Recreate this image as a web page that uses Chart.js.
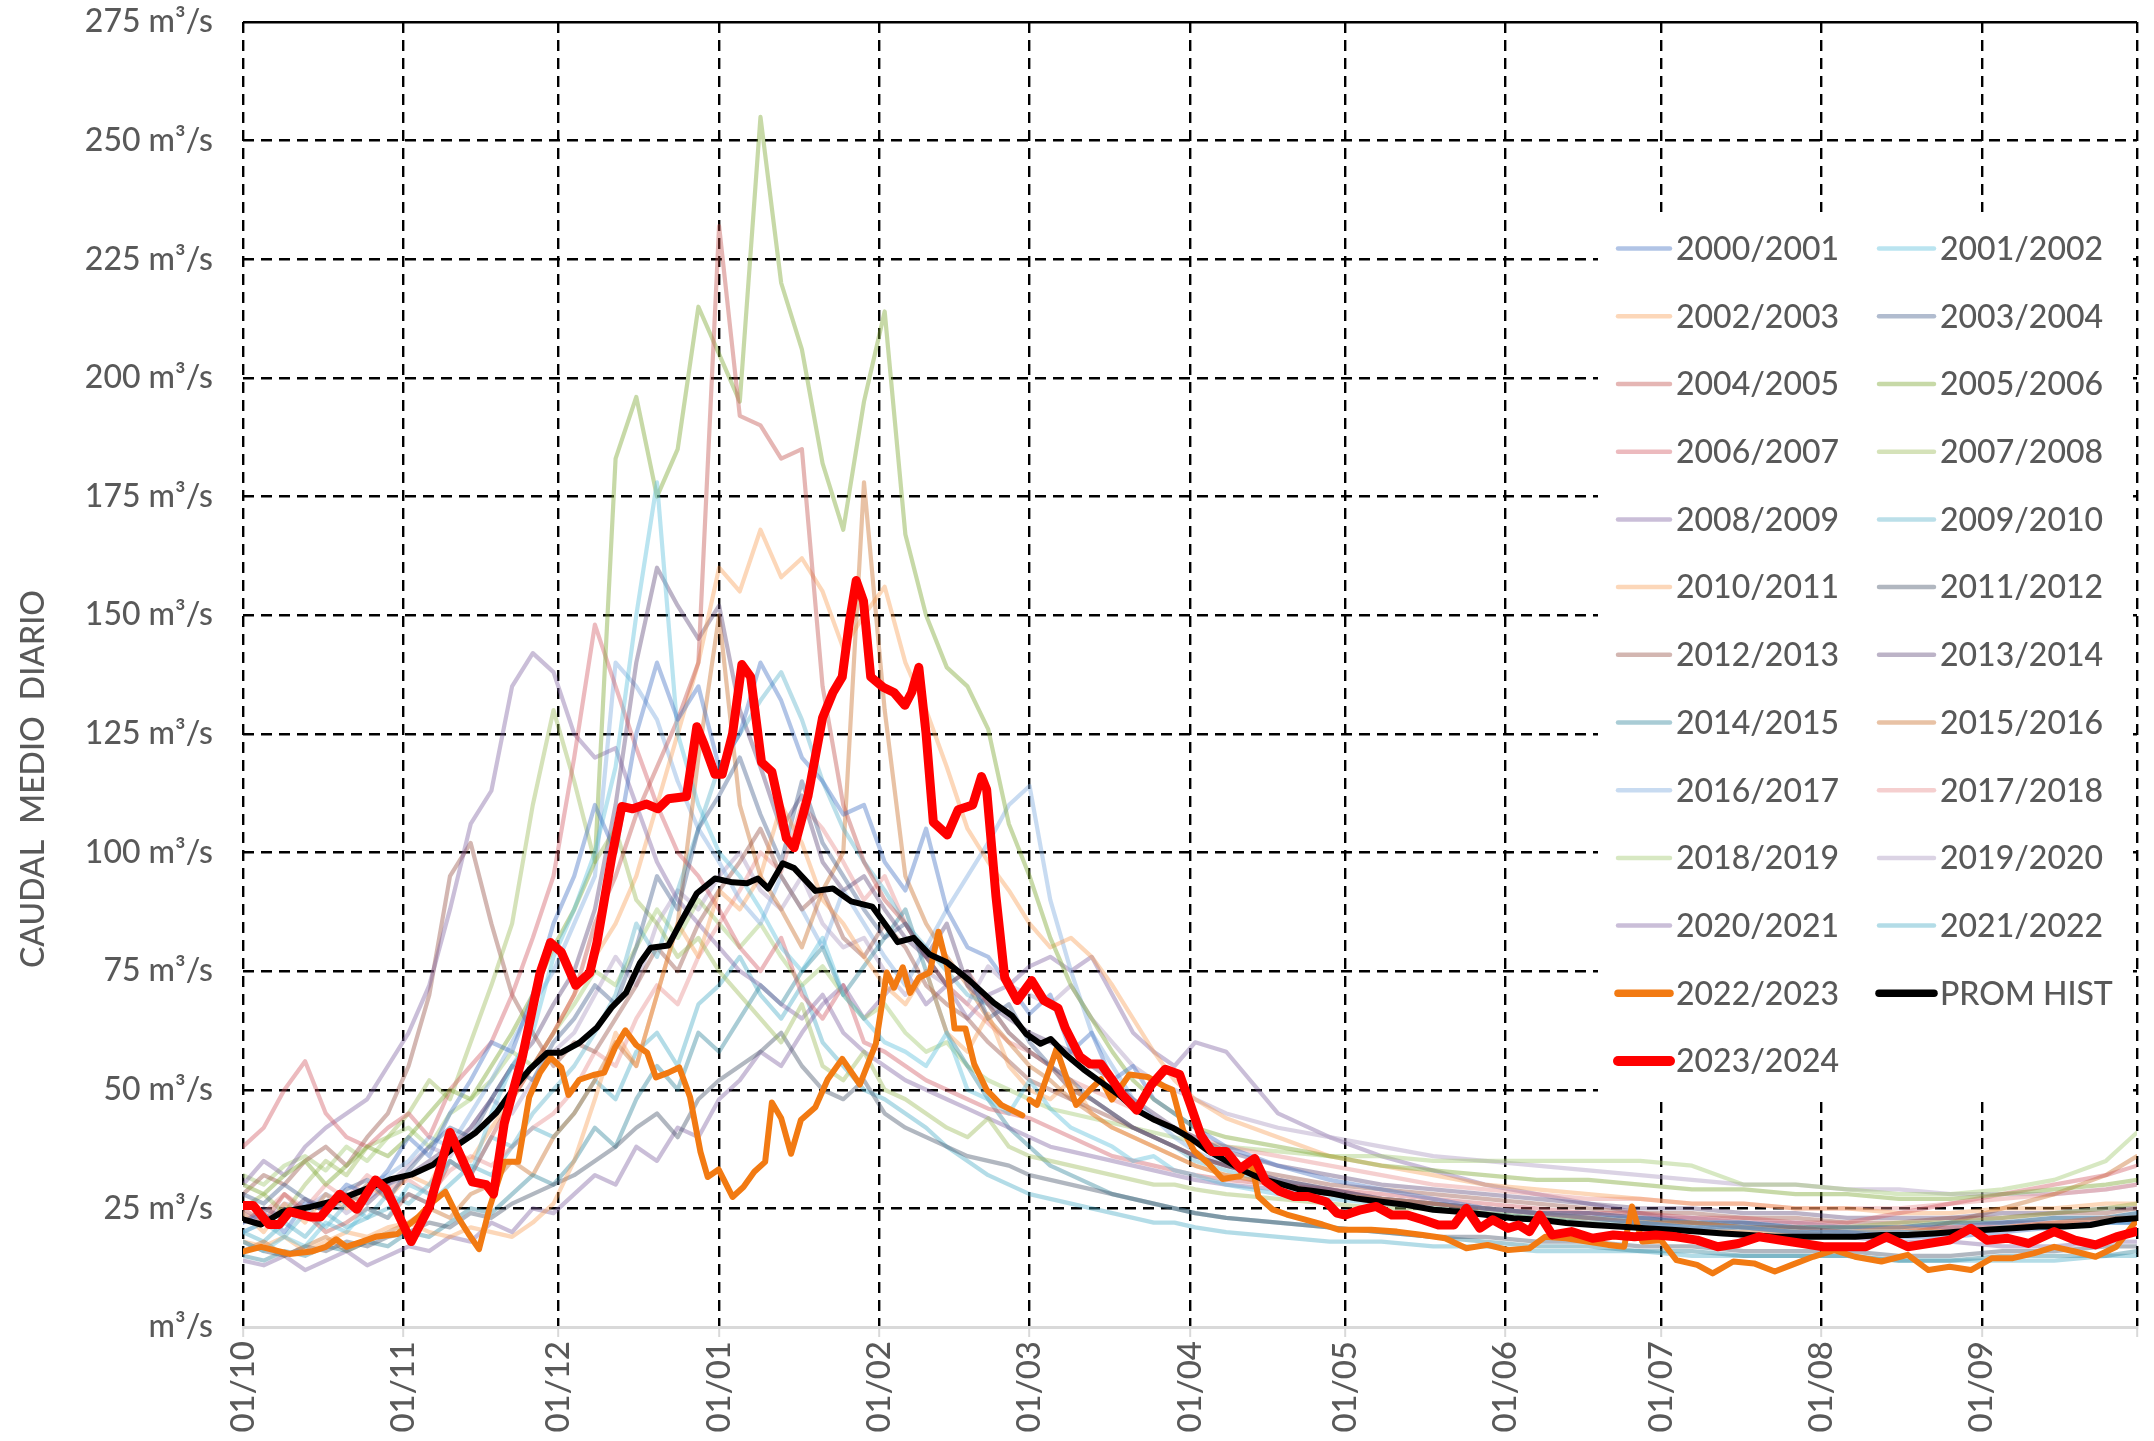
<!DOCTYPE html>
<html>
<head>
<meta charset="utf-8">
<title>Caudal medio diario</title>
<script src="https://cdn.jsdelivr.net/npm/chart.js@4.4.1/dist/chart.umd.min.js"></script>
<style>
  html, body { margin: 0; padding: 0; background: #fff; }
  canvas { display: block; }
</style>
</head>
<body>
<canvas id="flowChart" width="2154" height="1441"></canvas>
<script>
// month starts (day index from 01/10) and their tick labels
const monthStarts = [0, 31, 61, 92, 123, 152, 183, 213, 244, 274, 305, 336, 366];
const monthLabels = ["01/10", "01/11", "01/12", "01/01", "01/02", "01/03", "01/04", "01/05", "01/06", "01/07", "01/08", "01/09", ""];

const seasonLabels = [
  "2000/2001", "2001/2002", "2002/2003", "2003/2004", "2004/2005", "2005/2006",
  "2006/2007", "2007/2008", "2008/2009", "2009/2010", "2010/2011", "2011/2012",
  "2012/2013", "2013/2014", "2014/2015", "2015/2016", "2016/2017", "2017/2018",
  "2018/2019", "2019/2020", "2020/2021", "2021/2022"
];

const faintDays = [0,4,8,12,16,20,24,28,32,36,40,44,48,52,56,60,64,68,72,76,80,84,88,92,96,100,104,108,112,116,120,124,128,132,136,140,144,148,152,156,160,164,168,172,176,180,184,190,200,210,220,230,240,250,260,270,280,290,300,310,320,330,340,350,360,366];

const y0001 = [22,24,20,26,25,30,28,33, 40,36,45,52,60,58,70,85, 95,110,100,125,140,128,135,118, 125,140,132,120,115,108,110,98, 92,105,88,80,78,72,66,70, 58,62,52,55,48,45,42, 38,34,31,29,27,25,24,23,22,21,21,20,20,19,19,20,21,22,22];
const y0102 = [18,16,19,17,22,20,25,23, 30,28,35,32,45,55,62,78, 88,100,118,150,178,125,110,100, 95,88,80,75,82,70,65,60, 58,55,62,50,48,45,52,46, 42,40,38,35,36,33,32, 30,28,27,26,25,24,23,22,22,21,21,20,20,20,20,21,21,22,22];
const y0203 = [18,17,19,16,18,20,19,21, 22,20,19,21,20,19,22,26, 35,48,62,55,70,85,78,92, 88,95,110,102,90,85,78,72, 68,75,62,58,66,55,50,48, 52,45,42,40,38,36,34, 32,30,28,27,26,25,24,23,22,22,21,20,20,21,20,21,22,23,23];
const y0304 = [28,26,30,27,25,29,31,27, 33,38,42,40,48,55,52,60, 65,72,68,80,95,88,105,112, 120,108,98,115,102,95,88,82, 85,78,72,75,65,68,60,55, 52,48,45,42,40,38,36, 34,31,29,27,26,25,24,24,23,22,22,21,21,21,22,22,23,23,24];
const y0405 = [25,22,28,24,20,22,25,23, 28,26,35,32,40,48,55,62, 70,85,95,108,118,128,140,232, 192,190,183,185,135,110,98,90, 85,78,72,75,68,62,58,55, 50,48,45,42,40,38,36, 34,31,29,27,26,25,24,23,22,22,21,21,20,20,21,21,22,22,23];
const y0506 = [30,28,32,35,30,34,38,36, 40,45,50,48,55,62,70,80, 88,98,183,196,175,185,215,205, 195,255,220,206,182,168,195,214, 167,150,139,135,126,106,95,82, 72,65,58,52,48,45,42, 40,38,36,34,33,32,31,31,30,29,29,28,28,27,27,28,29,30,31];
const y0607 = [38,42,50,56,45,40,38,42, 45,40,50,55,60,70,82,95, 120,148,135,122,110,100,95,88, 80,75,82,70,65,72,60,58, 55,52,50,48,46,45,44,42, 40,38,36,35,34,33,32, 31,30,29,28,27,26,25,24,24,23,23,22,22,24,26,28,30,32,34];
const y0708 = [25,28,24,30,35,32,38,40, 45,52,48,60,72,85,110,130, 115,98,105,90,85,78,82,75, 70,65,60,68,55,52,58,50, 48,45,42,40,44,38,36,35, 34,33,32,31,30,30,29, 28,27,26,25,25,24,23,23,22,22,21,21,21,22,22,23,24,25,26];
const y0809 = [30,35,32,38,42,45,48,55, 62,72,88,106,113,135,142,138, 125,120,122,110,98,90,85,80, 75,72,68,65,70,62,58,55, 52,50,48,46,44,42,40,38, 37,36,35,34,33,32,31, 30,29,28,27,26,25,24,24,23,23,22,22,21,21,21,22,22,23,23];
const y0910 = [20,22,19,24,21,26,23,28, 26,30,35,32,40,38,45,50, 55,62,70,85,78,92,105,118, 125,132,138,128,115,105,98,92, 85,80,75,70,68,62,58,55, 50,48,45,42,40,38,35, 33,30,28,27,26,25,24,23,23,22,22,21,21,21,22,22,23,23,24];
const y1011 = [24,20,26,22,28,25,30,27, 32,30,38,35,42,48,55,62, 70,78,85,95,110,125,140,160, 155,168,158,162,155,143,150,156, 140,130,118,105,98,92,85,80, 82,78,72,65,58,52,48, 44,40,36,34,32,30,29,28,27,26,26,25,25,24,24,25,25,26,26];
const y1112 = [18,16,15,17,16,18,17,19, 20,22,21,24,23,26,28,30, 32,35,38,42,45,40,48,52, 55,58,62,55,50,48,52,45, 42,40,38,36,35,34,32,31, 30,29,28,27,26,25,24, 23,22,21,20,19,19,18,18,17,17,16,16,16,15,15,16,16,17,17];
const y1213 = [28,32,30,35,38,34,40,45, 55,70,95,102,85,70,62,55, 60,58,65,72,80,75,85,92, 98,105,95,88,92,82,78,85, 80,72,68,65,60,56,52,50, 48,46,44,42,40,38,36, 34,32,30,29,28,27,26,25,24,24,23,23,22,22,23,23,24,24,25];
const y1314 = [22,25,23,27,24,28,26,30, 32,35,38,42,48,55,60,68, 75,88,110,140,160,152,145,152, 130,118,105,112,98,92,95,88, 82,78,85,72,68,65,62,60, 58,55,52,48,45,42,40, 37,34,32,30,29,28,27,26,25,25,24,24,23,23,23,24,24,25,25];
const y1415 = [15,14,16,15,17,16,18,17, 20,19,22,25,24,28,32,30, 35,42,38,48,55,50,62,58, 65,72,68,75,80,70,76,82, 88,75,62,55,48,42,38,34, 32,30,28,27,26,25,24, 23,22,21,20,19,18,17,17,16,16,15,15,15,14,14,15,15,15,16];
const y1516 = [16,18,15,17,19,16,18,20, 22,25,23,28,30,35,32,40, 45,52,60,55,70,85,120,150, 110,95,88,80,92,100,178,130, 95,85,78,72,65,60,55,52, 48,45,42,40,38,36,34, 32,30,28,26,25,24,23,22,21,21,20,20,19,19,22,25,28,32,36];
const y1617 = [20,22,25,23,28,26,30,32, 35,40,38,45,52,60,68,75, 85,95,140,135,128,115,105,98, 90,85,95,88,80,92,85,78, 72,80,88,95,102,110,114,90, 75,62,55,48,44,40,37, 34,31,29,27,26,25,24,23,22,22,21,21,20,20,20,21,21,22,22];
const y1718 = [26,24,28,25,30,27,32,29, 31,28,33,36,34,38,42,45, 50,58,55,65,72,68,78,85, 92,100,96,110,105,98,90,95, 85,78,72,68,64,60,58,55, 52,50,48,46,44,42,40, 38,36,34,32,30,29,28,27,27,26,26,25,25,25,26,27,28,29,30];
const y1819 = [32,30,34,36,33,38,35,40, 42,38,45,48,52,58,55,62, 68,75,72,80,88,82,90,85, 80,85,78,72,76,70,65,68, 62,58,60,55,52,50,48,46, 45,44,43,42,41,40,39, 38,37,36,36,35,35,35,35,35,34,30,30,29,28,28,29,31,35,41];
const y1920 = [24,22,26,25,28,24,27,30, 34,38,36,42,48,45,52,58, 62,70,78,72,85,92,88,95, 100,92,88,95,85,80,82,75, 70,75,72,68,76,72,70,68, 72,65,60,55,52,50,48, 45,42,40,38,36,35,34,33,32,31,30,30,29,29,28,28,28,29,30];
const y2021 = [14,13,15,12,14,16,13,15, 17,16,19,18,22,20,25,24, 28,32,30,38,35,42,40,48, 52,58,55,62,68,72,65,70, 75,68,72,65,70,72,76,78, 75,78,70,62,58,55,60, 58,45,40,36,33,30,28,26,24,22,21,20,19,18,18,17,17,18,18];
const y2122 = [20,18,22,19,24,21,23,25, 28,26,30,34,32,38,42,40, 45,52,48,58,62,55,68,72, 78,70,65,72,60,55,50,48, 45,42,38,35,32,30,28,27, 26,25,24,23,22,22,21, 20,19,18,18,17,17,16,16,16,15,15,15,15,14,14,14,14,15,15];

// [day, m3/s]
const season2223 = [[0,15.9],[3.5,16.9],[9,15.4],[13.2,15.9],[16,16.9],[18,18.5],[20,16.9],[23,18],[25.6,19],[29.8,19.6],[33.9,23.2],[36.7,26.4],[39.1,28.5],[41.5,23.2],[43.6,19.6],[45.6,16.4],[47.7,25.3],[50.5,34.8],[53.2,34.8],[55.3,48.4],[57.4,53.6],[59.4,56.8],[61.5,54.7],[62.9,48.9],[65,52.1],[67.7,53.1],[69.8,53.6],[71.9,58.9],[73.9,62.5],[76,59.4],[78.1,57.8],[79.8,52.6],[82.2,53.6],[84.3,54.7],[86.4,48.4],[88.4,36.9],[89.8,31.6],[91.9,33.2],[94.6,27.4],[96.7,29.5],[98.8,32.7],[100.9,34.8],[102.2,47.3],[104,44],[105.9,36.5],[107.8,43.6],[110.6,46.3],[113,52.2],[115.8,56.5],[119.2,51.1],[122.3,59.7],[124.4,74.7],[125.8,71.5],[127.5,75.8],[128.9,70.4],[130.6,73.6],[132.7,74.7],[134.4,83.3],[136.1,75.8],[137.5,62.9],[139.6,62.9],[141.3,55.4],[143.7,50],[146.5,46.8],[150.6,44.6],[151,null],[152,47.9],[153.4,46.8],[155.5,53.2],[157.2,58.6],[158.9,53.2],[161,46.8],[163.7,50],[165.8,52.2],[167.9,47.9],[171.3,53.2],[174.8,52.7],[178.2,50.6],[179.6,50],[181.7,41.4],[183.8,37.1],[186.5,34.5],[189.3,31.2],[192.7,31.8],[194.8,35],[196.2,27.5],[198.9,24.8],[201.7,23.7],[205.1,22.7],[208.6,21.6],[211.7,20.5],[213,20.5],[218,20.5],[223,20.1],[228,19.4],[232.3,18.7],[236.4,16.6],[240.5,17.3],[244.5,16.2],[248.6,16.6],[251.6,19],[255.7,18.7],[259.7,18],[263.8,17.3],[266.9,16.9],[268.4,25.4],[270.4,18],[274,18.3],[277,14.1],[281,13.1],[284,11.3],[288,13.8],[292,13.4],[296,11.7],[299.3,13.1],[303.4,14.8],[307.5,16.2],[311.5,14.8],[316.6,13.8],[321.7,15.2],[325.7,12],[329.8,12.7],[333.9,12],[338,14.5],[342,14.5],[346,15.5],[350,16.9],[354,15.9],[358,14.8],[362,16.9],[366,22.6]];

const promHist = [[0,22.7],[3.5,21.6],[7.7,24.3],[13,25.3],[18.7,26.9],[23.6,29],[28.4,31.1],[32.5,32.1],[36.7,34.2],[40.8,37.9],[45,41],[49,45.2],[52.5,50.5],[55.3,54.2],[58.8,57.8],[61.5,57.8],[65,59.9],[68.4,63.1],[71.2,67.3],[74,70.4],[76.7,76.7],[78.8,79.9],[82.2,80.4],[85,86.1],[87.7,91.4],[91.2,94.5],[94.6,93.7],[97.4,93.5],[99.5,94.5],[101.5,92.4],[104.3,97.7],[106.5,96.7],[110.6,91.9],[114,92.4],[117.5,89.7],[121.6,88.6],[124.4,84.4],[126.5,81.1],[129.6,82],[132.7,78.5],[136.1,76.8],[140.3,73.1],[145.1,68.3],[148.6,65.6],[151.3,61.8],[154.1,59.7],[156.1,60.7],[158.9,57.5],[162.4,54.3],[165.8,51.6],[169.3,48.9],[172.7,45.7],[176.2,43.6],[179.6,42],[183.1,39.8],[186.5,37.1],[190,35],[193.4,32.9],[196.9,31.2],[200.3,30.2],[203.8,29.1],[207.2,28.6],[210,28.2],[215,27.1],[220,26.4],[225,25.7],[230,24.7],[235,24.3],[240.5,23.6],[245.5,22.9],[250.6,22.6],[255.7,21.9],[260.8,21.5],[265.8,21.2],[271,20.8],[276,20.5],[281,20.1],[286,19.7],[291,19.4],[296,19],[301,19],[306,19],[311.5,19],[316.6,19.4],[321.7,19.4],[326.8,19.7],[331.8,20.1],[337,20.5],[342,20.8],[347,21.2],[352,21.2],[357,21.5],[362,22.6],[366,22.9]];

const season2324 = [[0,25.6],[2,25.6],[5,21.6],[7,21.6],[9,24.3],[13,23.2],[15,23.2],[18.7,28],[22,24.8],[25.6,31],[27.7,29],[32.5,18],[36,25.3],[40,41],[44.3,30.6],[47,30],[48.4,28],[50.5,43],[54,57],[57.4,74.6],[59.4,81],[61.5,79],[64.3,72],[67,74.6],[68.4,81],[71.2,98.7],[73.2,109.7],[75.3,109.2],[78,110.2],[80.2,109.2],[82.2,111.3],[85.7,111.8],[87.7,126.5],[89.1,122.8],[91.2,116.5],[92.6,116.5],[94.6,125],[96.4,139.6],[98.1,137],[100.2,119],[102.2,117],[105,103],[106.5,101],[109.2,112],[112,128.4],[114,133.7],[115.8,137],[117.2,148.7],[118.5,157.3],[119.9,153],[121.3,137],[123.7,134.8],[125.8,133.7],[127.9,131],[129.2,133.7],[130.6,139],[132,125],[133.4,106.4],[136.1,103.7],[138.2,109],[141,110],[142.7,116],[143.7,113.3],[145.5,90.8],[147.2,73.6],[149.6,68.8],[152.4,73],[154.8,68.8],[157.5,67.2],[158.9,63],[161.7,57],[163.7,55.4],[165.8,55.4],[167.9,52.2],[169.9,49],[172.7,45.7],[175.5,51],[178.2,54.3],[181,53.2],[183.1,46.8],[185.1,40.4],[187.2,37],[190,37],[192.7,33.4],[195.5,35.5],[197.6,30.7],[200.3,28.6],[203.1,27.5],[205.8,27.5],[209.3,26.4],[211.4,24],[213,23.6],[216,24.7],[219,25.4],[222,23.6],[225,23.6],[228,22.6],[231,21.5],[234,21.5],[236.4,25],[239,20.8],[241.5,22.6],[244.5,20.8],[246.5,21.5],[248.6,20.1],[250.6,23.6],[253,19.4],[256.7,20.1],[260.8,18.7],[264.8,19.4],[268.9,19],[273,19.4],[277,19],[281,18.3],[285,16.9],[289,17.6],[293,19],[297,18.3],[301.4,17.6],[305.4,16.9],[309.5,16.9],[313.6,16.9],[317.6,19],[321.7,16.9],[325.7,17.6],[329.8,18.3],[333.9,20.8],[337,18.3],[341,18.7],[345,17.6],[350,20.1],[354,18.3],[358,17.3],[362,19],[365.8,20.1]];

const faintSeries = [y0001, y0102, y0203, y0304, y0405, y0506, y0607, y0708, y0809, y0910, y1011,
  y1112, y1213, y1314, y1415, y1516, y1617, y1718, y1819, y1920, y2021, y2122];

const faintColors = [
  "rgba(68,114,196,0.42)", "rgba(91,190,220,0.42)", "rgba(247,150,70,0.38)", "rgba(50,80,130,0.38)",
  "rgba(192,80,77,0.42)", "rgba(130,170,60,0.45)", "rgba(210,90,100,0.42)", "rgba(155,187,89,0.42)",
  "rgba(128,100,162,0.42)", "rgba(75,172,198,0.38)", "rgba(247,150,70,0.38)", "rgba(68,84,106,0.42)",
  "rgba(150,80,70,0.42)", "rgba(96,73,122,0.42)", "rgba(49,133,156,0.42)", "rgba(200,110,40,0.42)",
  "rgba(141,180,226,0.48)", "rgba(230,140,140,0.42)", "rgba(160,200,110,0.42)", "rgba(179,162,199,0.48)",
  "rgba(128,100,162,0.42)", "rgba(75,172,198,0.42)"
];

const toPoints = pairs => pairs.map(([x, y]) => ({ x, y }));

const datasets = faintSeries.map((vals, i) => ({
  label: seasonLabels[i],
  data: faintDays.map((d, j) => ({ x: d, y: vals[j] })),
  borderColor: faintColors[i],
  borderWidth: 4.2,
  legendWidth: 4.5,
  order: 10
}));
datasets.push({ label: "2022/2023", data: toPoints(season2223), borderColor: "#F27A12", borderWidth: 6, legendWidth: 7.5, order: 3 });
datasets.push({ label: "PROM HIST", data: toPoints(promHist), borderColor: "#000000", borderWidth: 6, legendWidth: 7.5, order: 2 });
datasets.push({ label: "2023/2024", data: toPoints(season2324), borderColor: "#FF0000", borderWidth: 9, legendWidth: 10, order: 1 });

const textGrey = "#595959";

// y axis title, sits lower than the axis centre like the original
const yTitle = {
  id: "yTitle",
  afterDraw(chart) {
    const ctx = chart.ctx;
    ctx.save();
    ctx.translate(34, chart.chartArea.top + 757);
    ctx.rotate(-Math.PI / 2);
    ctx.font = "500 32px Lato";
    ctx.fillStyle = textGrey;
    ctx.textAlign = "center";
    ctx.textBaseline = "middle";
    ctx.fillText("CAUDAL  MEDIO  DIARIO", 0, 0);
    ctx.restore();
  }
};

// two column legend drawn inside the plot, over the grid
const insideLegend = {
  id: "insideLegend",
  afterDraw(chart) {
    const { ctx, chartArea: a } = chart;
    const left = a.right - 539, top = a.top + 190;
    ctx.save();
    ctx.fillStyle = "#fff";
    ctx.fillRect(left, top, 532, 886);
    ctx.font = "500 32px Lato";
    ctx.textBaseline = "middle";
    ctx.lineCap = "round";
    chart.data.datasets.forEach((ds, i) => {
      const row = Math.floor(i / 2), col = i % 2;
      const y = top + 36.6 + row * 67.7;
      const x0 = left + (col ? 281 : 20);
      const x1 = left + (col ? 336 : 72);
      ctx.strokeStyle = ds.borderColor;
      ctx.lineWidth = ds.legendWidth;
      ctx.beginPath();
      ctx.moveTo(x0, y);
      ctx.lineTo(x1, y);
      ctx.stroke();
      ctx.fillStyle = textGrey;
      ctx.fillText(ds.label, x1 + 6, y + 1);
    });
    ctx.restore();
  }
};

new Chart(document.getElementById("flowChart"), {
  type: "line",
  data: { datasets },
  options: {
    responsive: false,
    animation: false,
    devicePixelRatio: 1,
    layout: { padding: { top: 22, right: 17, left: 0, bottom: 0 } },
    elements: {
      point: { radius: 0 },
      line: { tension: 0, borderJoinStyle: "round", borderCapStyle: "round", fill: false }
    },
    plugins: { legend: { display: false }, tooltip: { enabled: false } },
    scales: {
      x: {
        type: "linear",
        min: 0,
        max: 366,
        afterBuildTicks: scale => { scale.ticks = monthStarts.map(v => ({ value: v })); },
        afterFit: scale => {
          scale.height = 114;
          scale.paddingLeft = 0;
          scale.paddingRight = 0;
        },
        ticks: {
          autoSkip: false,
          minRotation: 90,
          maxRotation: 90,
          padding: 4,
          color: textGrey,
          font: { family: "Lato", size: 33, weight: "500" },
          callback: v => monthLabels[monthStarts.indexOf(v)]
        },
        grid: {
          color: "#000",
          lineWidth: 2.4,
          tickColor: "#d9d9d9",
          tickLength: 10,
          tickWidth: 2,
          tickBorderDash: []
        },
        border: { display: true, color: "#d9d9d9", width: 3, dash: [11, 7] }
      },
      y: {
        min: 0,
        max: 275,
        afterFit: scale => {
          scale.width = 243;
          scale.paddingTop = 0;
          scale.paddingBottom = 0;
        },
        ticks: {
          stepSize: 25,
          padding: 30,
          color: textGrey,
          font: { family: "Lato", size: 32, weight: "500" },
          callback: v => (v === 0 ? "m³/s" : v + " m³/s")
        },
        grid: {
          drawTicks: false,
          lineWidth: 2.4,
          color: c => (c.tick && c.tick.value === 0 ? "rgba(0,0,0,0)" : "#000")
        },
        border: {
          display: false,
          dash: c => (c.tick && c.tick.value === 275 ? [] : [11, 7])
        }
      }
    }
  },
  plugins: [yTitle, insideLegend]
});
</script>
</body>
</html>
